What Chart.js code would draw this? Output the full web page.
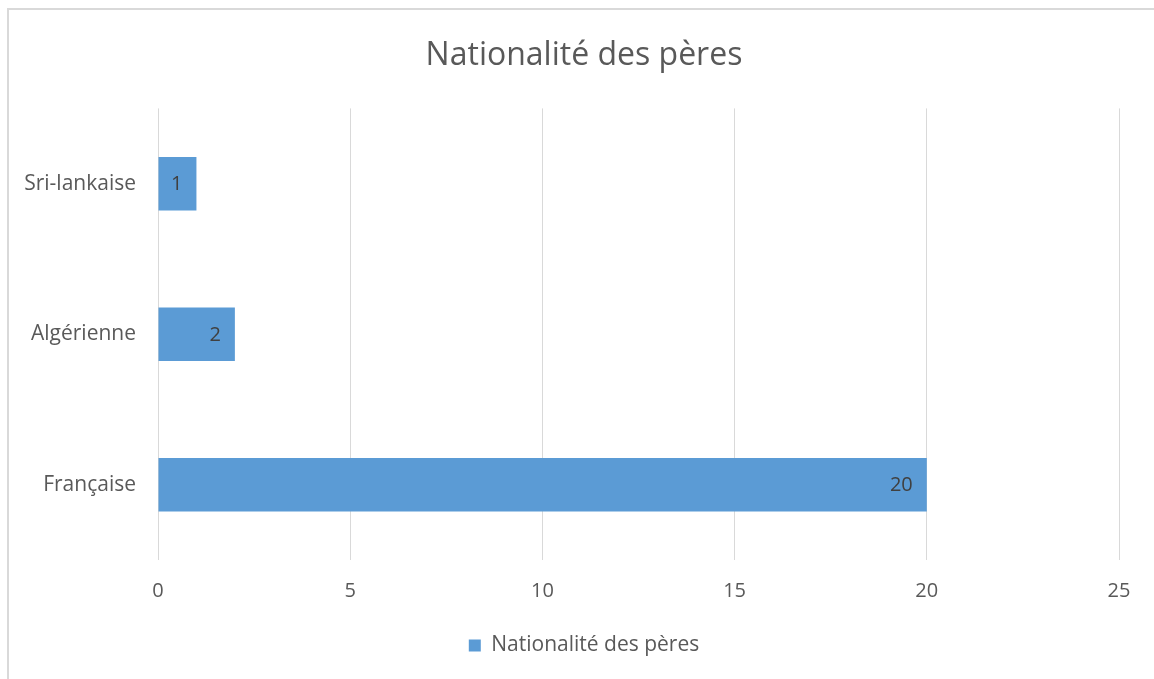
<!DOCTYPE html>
<html>
<head>
<meta charset="utf-8">
<script src="https://cdn.jsdelivr.net/npm/chart.js@4/dist/chart.umd.min.js"></script>
<style>
    html, body { margin: 0; padding: 0; overflow: hidden; background: #fff; width: 1154px; height: 679px; }
    .frame {
        position: absolute; left: 7px; top: 8px;
        width: 1152px; height: 671px;
        border-top: 2px solid #d9d9d9;
        border-left: 2px solid #d9d9d9;
    }
    .frame canvas { display: block; }
</style>
</head>
<body>
<div class="frame"><canvas id="chart" width="1150" height="669"></canvas></div>
<script>
const CATEGORIES = ['Sri-lankaise', 'Algérienne', 'Française'];
const VALUES = [1, 2, 20];
const SERIES_LABEL = 'Nationalité des pères';
const TITLE = 'Nationalité des pères';
const X_MAX = 25;
const X_STEP = 5;

const BAR_COLOR = '#5b9bd5';
const TEXT_COLOR = '#595959';
const FONT = "'Open Sans', sans-serif";

// value labels drawn at the inside end of each bar
const valueLabels = {
    id: 'valueLabels',
    afterDatasetsDraw(chart) {
        const ctx = chart.ctx;
        const meta = chart.getDatasetMeta(0);
        ctx.save();
        ctx.font = `20px ${FONT}`;
        ctx.fillStyle = '#404040';
        ctx.textAlign = 'right';
        ctx.textBaseline = 'middle';
        meta.data.forEach((bar, i) => {
            ctx.fillText(String(VALUES[i]), bar.x - 14, bar.y + 1);
        });
        ctx.restore();
    }
};

new Chart(document.getElementById('chart').getContext('2d'), {
    type: 'bar',
    data: {
        labels: CATEGORIES,
        datasets: [{
            label: SERIES_LABEL,
            data: VALUES,
            backgroundColor: BAR_COLOR,
            borderWidth: 0,
            categoryPercentage: 1,
            barPercentage: 0.355,
        }]
    },
    options: {
        indexAxis: 'y',
        responsive: false,
        animation: false,
        layout: { padding: { left: 0, right: 0, top: 0, bottom: 13 } },
        scales: {
            x: {
                min: 0,
                max: X_MAX,
                ticks: { stepSize: X_STEP, color: TEXT_COLOR, font: { family: FONT, size: 20 }, padding: 19 },
                grid: { color: '#d9d9d9', lineWidth: 1, drawTicks: false },
                border: { display: false },
                afterFit(scale) { scale.height = 65; }
            },
            y: {
                ticks: { color: TEXT_COLOR, font: { family: FONT, size: 21 }, padding: 22 },
                grid: { display: false, drawTicks: false },
                border: { display: false },
                afterFit(scale) { scale.width = 149; }
            },
            // empty right-hand gutter, so title and legend stay centred on the whole chart
            gutter: {
                type: 'linear',
                axis: 'y',
                position: 'right',
                ticks: { display: false },
                grid: { display: false, drawTicks: false },
                border: { display: false },
                afterFit(scale) { scale.width = 40; }
            }
        },
        plugins: {
            title: {
                display: true,
                text: TITLE,
                color: TEXT_COLOR,
                font: { family: FONT, size: 32, weight: 'normal' },
                padding: { top: 27, bottom: 33 }
            },
            legend: {
                position: 'bottom',
                labels: {
                    color: TEXT_COLOR,
                    font: { family: FONT, size: 21 },
                    boxWidth: 12,
                    boxHeight: 12,
                    padding: 10
                }
            },
            tooltip: { enabled: false }
        }
    },
    plugins: [valueLabels]
});
</script>
</body>
</html>
